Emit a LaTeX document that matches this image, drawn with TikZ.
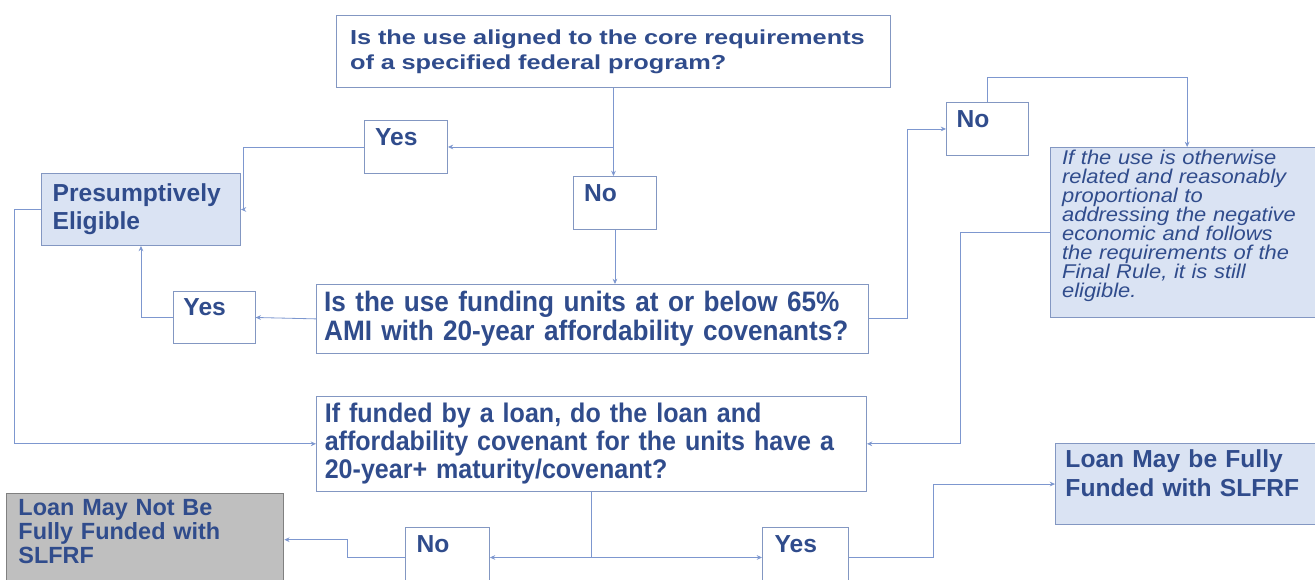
\documentclass[tikz,border=0pt]{standalone}
\usepackage{fontspec}
\setmainfont{Liberation Sans}
\newfontfamily\widesans[FakeStretch=1.25]{Liberation Sans}
\newfontfamily\narrowsans[FakeStretch=0.93]{Liberation Sans}
\newfontfamily\notesans[FakeStretch=1.1]{Liberation Sans}
\usetikzlibrary{arrows.meta}
\definecolor{txtblue}{HTML}{304C8C}
\definecolor{boxline}{HTML}{8397C2}
\definecolor{arrline}{HTML}{7D97CF}
\definecolor{fillblue}{HTML}{DAE3F3}
\definecolor{fillgray}{HTML}{BFBFBF}
\begin{document}
\begin{tikzpicture}[x=0.03cm, y=-0.03cm,
    box/.style={draw=boxline, line width=0.8pt, text=txtblue, anchor=north west,
        align=left, inner xsep=0.3cm, inner ysep=0.2cm,
        font=\bfseries\fontsize{21}{24}\selectfont},
    yesno/.style={box, minimum width=2.49cm, minimum height=1.59cm,
        text width=1.85cm, text depth=0.62cm},
    arr/.style={draw=arrline, line width=0.7pt, -{Stealth[length=4.5pt,width=4pt]}}]
    \useasboundingbox (0,0) rectangle (1315,579);

    % Questions
    \node[box, minimum width=16.62cm, minimum height=2.16cm, text width=15.8cm,
        inner xsep=0.39cm, font=\widesans\bfseries\fontsize{17.3}{21.3}\selectfont]
        (q1) at (336,15) {Is the use aligned to the core requirements\\of a specified federal program?};
    \node[box, minimum width=16.56cm, minimum height=2.01cm, text width=16.1cm,
        inner xsep=0.2cm, font=\narrowsans\bfseries\fontsize{24}{25}\selectfont]
        (q2) at (316,284) {Is the use funding units at or below 65\%\\AMI with 20-year affordability covenants?};
    \node[box, minimum width=16.5cm, minimum height=2.82cm, text width=16.0cm,
        inner xsep=0.2cm, font=\narrowsans\bfseries\fontsize{23}{24}\selectfont]
        (q3) at (316,396) {If funded by a loan, do the loan and\\affordability covenant for the units have a\\20-year+ maturity/covenant?};

    % Answers
    \node[yesno] (yes1) at (364,120) {Yes};
    \node[yesno] (no1) at (573,176) {No};
    \node[yesno, minimum width=2.4cm, minimum height=1.56cm] (yes2) at (173,291) {Yes};
    \node[yesno, minimum width=2.46cm] (no2) at (946,102) {No};
    \node[yesno, minimum width=2.52cm, minimum height=1.8cm, text depth=0.8cm] (no3) at (405,527) {No};
    \node[yesno, minimum width=2.58cm, minimum height=1.8cm, text depth=0.8cm] (yes3) at (762,527) {Yes};

    % Outcomes
    \node[box, fill=fillblue, text width=7.8cm, inner xsep=0.35cm,
        inner ysep=0.08cm, text depth=4.5cm,
        font=\notesans\itshape\fontsize{17}{16.2}\selectfont]
        (note) at (1050,147) {If the use is otherwise\\related and reasonably\\proportional to\\addressing the negative\\economic and follows\\the requirements of the\\Final Rule, it is still\\eligible.};
    \node[box, fill=fillblue, minimum width=5.97cm, minimum height=2.16cm, text width=5.3cm,
        inner xsep=0.33cm] (pres) at (41,173) {Presumptively\\Eligible};
    \node[box, fill=fillblue, text width=7.8cm, text depth=1.5cm]
        (loanmay) at (1055,443) {Loan May be Fully\\Funded with SLFRF};
    \node[box, fill=fillgray, draw=gray, minimum width=8.31cm, text width=7.6cm,
        inner xsep=0.36cm, inner ysep=0.17cm, text depth=1.95cm,
        font=\bfseries\fontsize{20}{20.5}\selectfont]
        (loannot) at (6,493) {Loan May Not Be\\Fully Funded with\\SLFRF};

    % Connectors
    \draw[arr] (q1.south) |- (yes1.east);
    \draw[arr] (q1.south) -- (q1.south |- no1.north);
    \draw[arr] (yes1.west) -- ++(-121,0) |- (pres.east);
    \draw[arr] (no1.south) -- (no1.south |- q2.north);
    \draw[arr] (q2.west) -- (yes2.east);
    \draw[arr] (yes2.west) -| (pres.south);
    \draw[arr] (pres.west) -- ++(-27,0) |- (q3.west);
    \draw[arr] (q2.east) -- ++(38,0) |- (no2.west);
    \draw[arr] (no2.north) -- ++(0,-25) -| ([xshift=-0.15cm]note.north);
    \draw[arr] (note.west) -- ++(-90,0) |- (q3.east);
    \draw[arr] (q3.south) |- (no3.east);
    \draw[arr] (q3.south) |- (yes3.west);
    \draw[arr] (no3.west) -- ++(-58,0) |- (loannot.east);
    \draw[arr] (yes3.east) -- ++(84,0) |- (loanmay.west);
\end{tikzpicture}
\end{document}
